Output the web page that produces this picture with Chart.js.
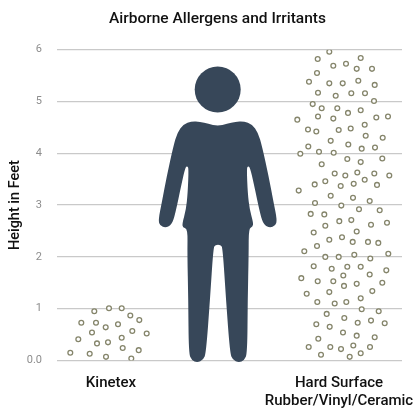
<!DOCTYPE html>
<html>
<head>
<meta charset="utf-8">
<style>
  html, body { margin: 0; padding: 0; background: #fff; overflow: hidden; }
  canvas { display: block; }
</style>
<script src="https://cdn.jsdelivr.net/npm/chart.js@4"></script>
</head>
<body>
<canvas id="chart" width="414" height="408"></canvas>
<script>
const chartTitle = "Airborne Allergens and Irritants";
const yAxisTitle = "Height in Feet";
const yTickLabels = ["0.0", "1", "2", "3", "4", "5", "6"];
const categories = [["Kinetex"], ["Hard Surface", "Rubber/Vinyl/Ceramic"]];
const categoryPositions = [54, 282];

const kinetexX = [37.3, 52, 64.7, 73.3, 82.3, 24.3, 39, 48.7, 61, 35, 75.3, 89.7, 21.3, 64.7, 40, 51, 65.7, 81.7, 13.3, 32.7, 49, 74.3];
const kinetexY = [0.95, 1.01, 1.01, 0.87, 0.78, 0.73, 0.73, 0.64, 0.70, 0.54, 0.57, 0.52, 0.41, 0.44, 0.33, 0.35, 0.24, 0.20, 0.15, 0.13, 0.07, 0.04];

const hardX = [272.3, 260.7, 303.7, 276.3, 289, 299.7, 315, 260, 252, 272.3, 285.7, 301.3, 317.7, 261, 278.7, 294.3, 308, 317, 255.7, 264.7, 280.3, 291, 303.7, 240.3, 261, 276.3, 319.3, 331, 251, 259.3, 281.7, 293.7, 307.7, 308.7, 325.7, 273.7, 291.3, 251.3, 304.7, 318, 243.3, 262, 276.7,
  290.3, 303.7, 325.3, 264.7, 277.7, 288.3, 300.3, 317.3, 332.3, 257.7, 268.3, 283.7, 296.7, 307.7, 320, 241.7, 273.7, 296, 312.7, 258, 284.3, 302, 322.7, 253.7, 267.3, 282.3, 294.3, 268.3, 314, 330, 256.7, 299.7, 272.3, 285, 295.7, 311, 321.3, 260, 247.3, 268.3, 281.7, 297.3, 313.3, 331.3, 256.7, 274.7, 290.3, 303.7, 329.3, 286.3, 312.7,
  244.3, 260.7, 276.3, 287, 299.7, 325.3, 249.7, 272.3, 315.3, 260.3, 277.7, 289.3, 303.7, 304.7, 321.7, 269.7, 287.3, 300.7, 314, 259.3, 272.7, 327.7, 286, 299.7, 317.7, 261.3, 251.7, 273.3, 284, 296.3, 313, 264, 303.7, 292.7];
const hardY = [5.96, 5.82, 5.84, 5.69, 5.73, 5.63, 5.63, 5.55, 5.38, 5.35, 5.35, 5.40, 5.32, 5.17, 5.11, 5.16, 5.16, 5.01, 4.95, 4.87, 4.87, 4.78, 4.83, 4.65, 4.71, 4.67, 4.69, 4.71, 4.46, 4.42, 4.45, 4.48, 4.55, 4.34, 4.30, 4.24, 4.17, 4.13, 4.09, 4.11, 3.99, 4.03, 4.01,
  3.89, 3.83, 3.90, 3.79, 3.61, 3.57, 3.63, 3.61, 3.57, 3.40, 3.46, 3.37, 3.41, 3.49, 3.39, 3.28, 3.18, 3.14, 3.08, 3.04, 2.99, 2.92, 2.90, 2.83, 2.82, 2.69, 2.71, 2.60, 2.62, 2.66, 2.47, 2.49, 2.33, 2.38, 2.29, 2.29, 2.27, 2.21, 2.11, 2.00, 2.00, 2.04, 1.97, 2.06, 1.82, 1.77, 1.81, 1.81, 1.74, 1.64, 1.66,
  1.59, 1.53, 1.53, 1.44, 1.48, 1.50, 1.29, 1.32, 1.34, 1.13, 1.10, 1.13, 1.20, 0.99, 0.95, 0.90, 0.82, 0.73, 0.77, 0.70, 0.65, 0.72, 0.54, 0.48, 0.45, 0.42, 0.26, 0.26, 0.22, 0.29, 0.26, 0.11, 0.14, 0.07];

// person outline, same units as the dots (x position, height in feet)
const headX = [160.7];
const headY = [5.23];
const personX = [160.7, 151.3, 143, 134.7, 126.3, 120.3, 116.3, 109.7, 104.7, 101.3, 103, 108.7, 114.7, 118, 124.7, 128.3, 130.3, 131.7, 130.7, 129, 125.3, 125.7, 130.7,
  130.3, 131.3, 131.7, 134.7, 140.3, 146.3, 149, 153, 156.3, 158.3, 163.7, 165.7, 169, 173, 175.7, 181.7, 187.3, 190.3, 190.7, 191.7, 191.7,
  195.7, 196.3, 192.7, 190.7, 189.7, 191, 193, 196.7, 203.4, 206.7, 212.7, 218.4, 220.1, 216.7, 211.7, 205.1, 201.1, 195.1, 186.7, 178.4, 170.1];
const personY = [4.53, 4.565, 4.61, 4.62, 4.56, 4.40, 4.13, 3.55, 3.04, 2.71, 2.60, 2.56, 2.62, 2.81, 3.42, 3.73, 3.755, 3.71, 3.23, 2.91, 2.65, 2.565, 2.54,
  2.07, 1.17, 0.14, 0.0, -0.04, 0.01, 0.14, 1.17, 2.165, 2.236, 2.236, 2.165, 1.17, 0.14, 0.01, -0.04, 0.0, 0.14, 1.17, 2.07, 2.55,
  2.58, 2.66, 2.91, 3.23, 3.71, 3.755, 3.73, 3.42, 2.81, 2.62, 2.56, 2.60, 2.71, 3.04, 3.55, 4.13, 4.40, 4.56, 4.62, 4.61, 4.565];

const zip = (xs, ys) => xs.map((x, i) => ({ x: x, y: ys[i] }));

const dotStyle = {
    showLine: false,
    pointRadius: 2.4,
    pointBorderWidth: 1.3,
    pointBackgroundColor: "#ffffff",
    pointBorderColor: "#85856b"
};

const personPlugin = {
    id: "person",
    afterLayout(chart) {
        // title is centred over the figure, not the axis area
        chart.titleBlock.left = 33;
    },
    beforeDatasetsDraw(chart) {
        const pts = chart.getDatasetMeta(0).data;
        const ctx = chart.ctx;
        const n = pts.length;
        ctx.save();
        ctx.beginPath();
        ctx.moveTo((pts[n - 1].x + pts[0].x) / 2, (pts[n - 1].y + pts[0].y) / 2);
        pts.forEach((p, i) => {
            const q = pts[(i + 1) % n];
            ctx.quadraticCurveTo(p.x, p.y, (p.x + q.x) / 2, (p.y + q.y) / 2);
        });
        ctx.closePath();
        ctx.fillStyle = "#374759";
        ctx.fill();
        ctx.restore();
    }
};

new Chart(document.getElementById("chart").getContext("2d"), {
    type: "scatter",
    data: {
        datasets: [
            { label: "Person", data: zip(personX, personY), showLine: false, pointRadius: 0 },
            { label: "Head", data: zip(headX, headY), showLine: false, pointRadius: 23, pointBorderWidth: 0, pointBackgroundColor: "#374759" },
            Object.assign({ label: "Kinetex", data: zip(kinetexX, kinetexY) }, dotStyle),
            Object.assign({ label: "Hard Surface", data: zip(hardX, hardY) }, dotStyle)
        ]
    },
    options: {
        responsive: false,
        animation: false,
        // the head's big point radius would otherwise inflate the padding
        layout: { autoPadding: false, padding: { left: 0, right: 12, top: 0, bottom: 0 } },
        plugins: {
            legend: { display: false },
            tooltip: { enabled: false },
            title: {
                display: true,
                text: chartTitle,
                color: "#111111",
                font: { family: "Roboto", size: 15.5, weight: "500" },
                padding: { top: 10, bottom: 21.1 }
            }
        },
        scales: {
            x: {
                type: "linear",
                min: 0,
                max: 345,
                grid: { display: false },
                border: { display: false },
                afterFit(scale) {
                    scale.height = 47.5;
                    // the long label runs off the right edge in the original
                    scale.paddingLeft = 0;
                    scale.paddingRight = 0;
                },
                afterBuildTicks(scale) { scale.ticks = categoryPositions.map(v => ({ value: v })); },
                ticks: {
                    autoSkip: false,
                    maxRotation: 0,
                    padding: 6,
                    color: "#111111",
                    font: { family: "Roboto", size: 15, weight: "500" },
                    callback: (v, i) => categories[i]
                }
            },
            y: {
                min: 0,
                max: 6,
                grid: { color: "#c9c9c9", lineWidth: 1.3, drawTicks: false },
                border: { display: false },
                afterFit(scale) {
                    scale.width = 57;
                    scale.paddingTop = 0;
                    scale.paddingBottom = 0;
                },
                title: {
                    display: true,
                    text: yAxisTitle,
                    color: "#111111",
                    font: { family: "Roboto", size: 14.5, weight: "500" },
                    padding: { top: 7, bottom: 0 }
                },
                ticks: {
                    stepSize: 1,
                    padding: 15,
                    color: "#8d8d8d",
                    font: { family: "Roboto", size: 11 },
                    callback: (v, i) => yTickLabels[i]
                }
            }
        }
    },
    plugins: [personPlugin]
});
</script>
</body>
</html>
